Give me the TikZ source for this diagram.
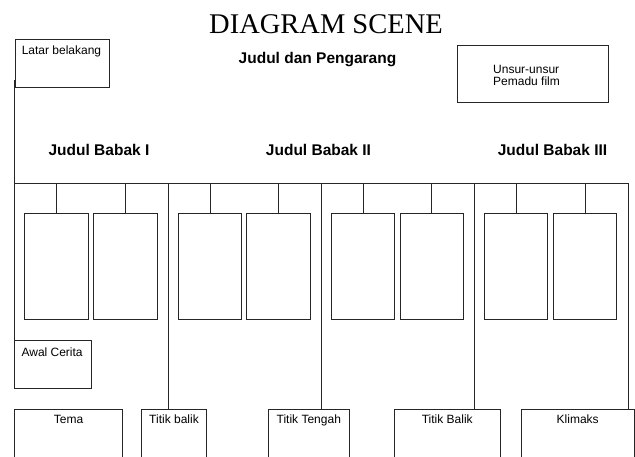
\documentclass[tikz,border=0pt]{standalone}
\usepackage{fontspec}
\setmainfont{Liberation Sans}
\newfontfamily\titlefont{Liberation Serif}
\begin{document}
\begin{tikzpicture}[x=1pt,y=-1pt,
  ln/.style={draw=black!85, line width=0.8pt},
  rbox/.style={ln, inner sep=0pt, minimum width=#1},
  tall/.style={ln, inner sep=0pt, minimum width=63.5pt, minimum height=106pt},
  small/.style={inner sep=0pt, font=\fontsize{12}{12.5}\selectfont},
  head/.style={inner sep=0pt, font=\fontsize{15.5}{17}\selectfont\bfseries},
]
\clip (0,0) rectangle (635,456);
\fill[white] (0,0) rectangle (635,456);

% title
\node[inner sep=0pt, anchor=base, font=\fontsize{28.5}{30}\titlefont] (title) at (326,33) {DIAGRAM SCENE};
\node[head, anchor=base] (judul) at (317.5,63.5) {Judul dan Pengarang};

% top boxes
\node[rbox=94pt, minimum height=48pt] (lb) at (62,63) {};
\node[small, anchor=base west] (lbt) at ([shift={(7,16)}]lb.north west) {Latar belakang};
\node[rbox=150.6pt, minimum height=57pt] (uu) at (533,73.8) {};
\node[small, anchor=base west] (uut1) at (493,73.3) {Unsur-unsur};
\node[small, anchor=base west] (uut2) at (493,85.8) {Pemadu film};

% babak headings
\node[head, anchor=base] (h1) at (99,155) {Judul Babak I};
\node[head, anchor=base] (h2) at (318.5,155) {Judul Babak II};
\node[head, anchor=base] (h3) at (552.5,155) {Judul Babak III};

% tall boxes
\node[tall] (b1) at (56.5,266) {};
\node[tall] (b2) at (125.5,266) {};
\node[tall] (b3) at (210,266) {};
\node[tall] (b4) at (278.5,266) {};
\node[tall] (b5) at (363,266) {};
\node[tall] (b6) at (431.7,266) {};
\node[tall] (b7) at (516,266) {};
\node[tall] (b8) at (585,266) {};

% awal cerita
\node[rbox=76.3pt, minimum height=48pt] (ac) at (52.9,364) {};
\node[small, anchor=base west] (act) at ([shift={(7,16.7)}]ac.north west) {Awal Cerita};

% bottom boxes
\node[rbox=107.6pt, minimum height=60pt] (tema) at (68.5,439.3) {};
\node[rbox=65.4pt, minimum height=60pt] (tb1) at (174,439.3) {};
\node[rbox=81pt, minimum height=60pt] (tt) at (308.8,439.3) {};
\node[rbox=106pt, minimum height=60pt] (tb2) at (447.3,439.3) {};
\node[rbox=113.3pt, minimum height=60pt] (kl) at (577.7,439.3) {};
\node[small, anchor=base] (temat) at ([shift={(0,15)}]tema.north) {Tema};
\node[small, anchor=base] (tb1t) at ([shift={(0,15)}]tb1.north) {Titik balik};
\node[small, anchor=base] (ttt) at ([shift={(0,15)}]tt.north) {Titik Tengah};
\node[small, anchor=base] (tb2t) at ([shift={(0,15)}]tb2.north) {Titik Balik};
\node[small, anchor=base] (klt) at ([shift={(0,15)}]kl.north) {Klimaks};

% connectors
\coordinate (lt) at (14,80);
\coordinate (lbot) at (14,347);
\coordinate (hl) at (14,183);
\coordinate (hr) at (628,183);
\coordinate (c1) at (168,183);
\coordinate (c2) at (321,183);
\coordinate (c3) at (474,183);
\draw[ln] (lt) -- (lbot);
\draw[ln] (hl) -- (hr);
\draw[ln] (c1) -- (c1 |- tb1.north);
\draw[ln] (c2) -- (c2 |- tt.north);
\draw[ln] (c3) -- (c3 |- tb2.north);
\draw[ln] (hr) -- (hr |- kl.north);
\foreach \b in {b1,b2,b3,b4,b5,b6,b7,b8}
  \draw[ln] (\b.north) -- (\b.north |- hl);
\end{tikzpicture}
\end{document}
